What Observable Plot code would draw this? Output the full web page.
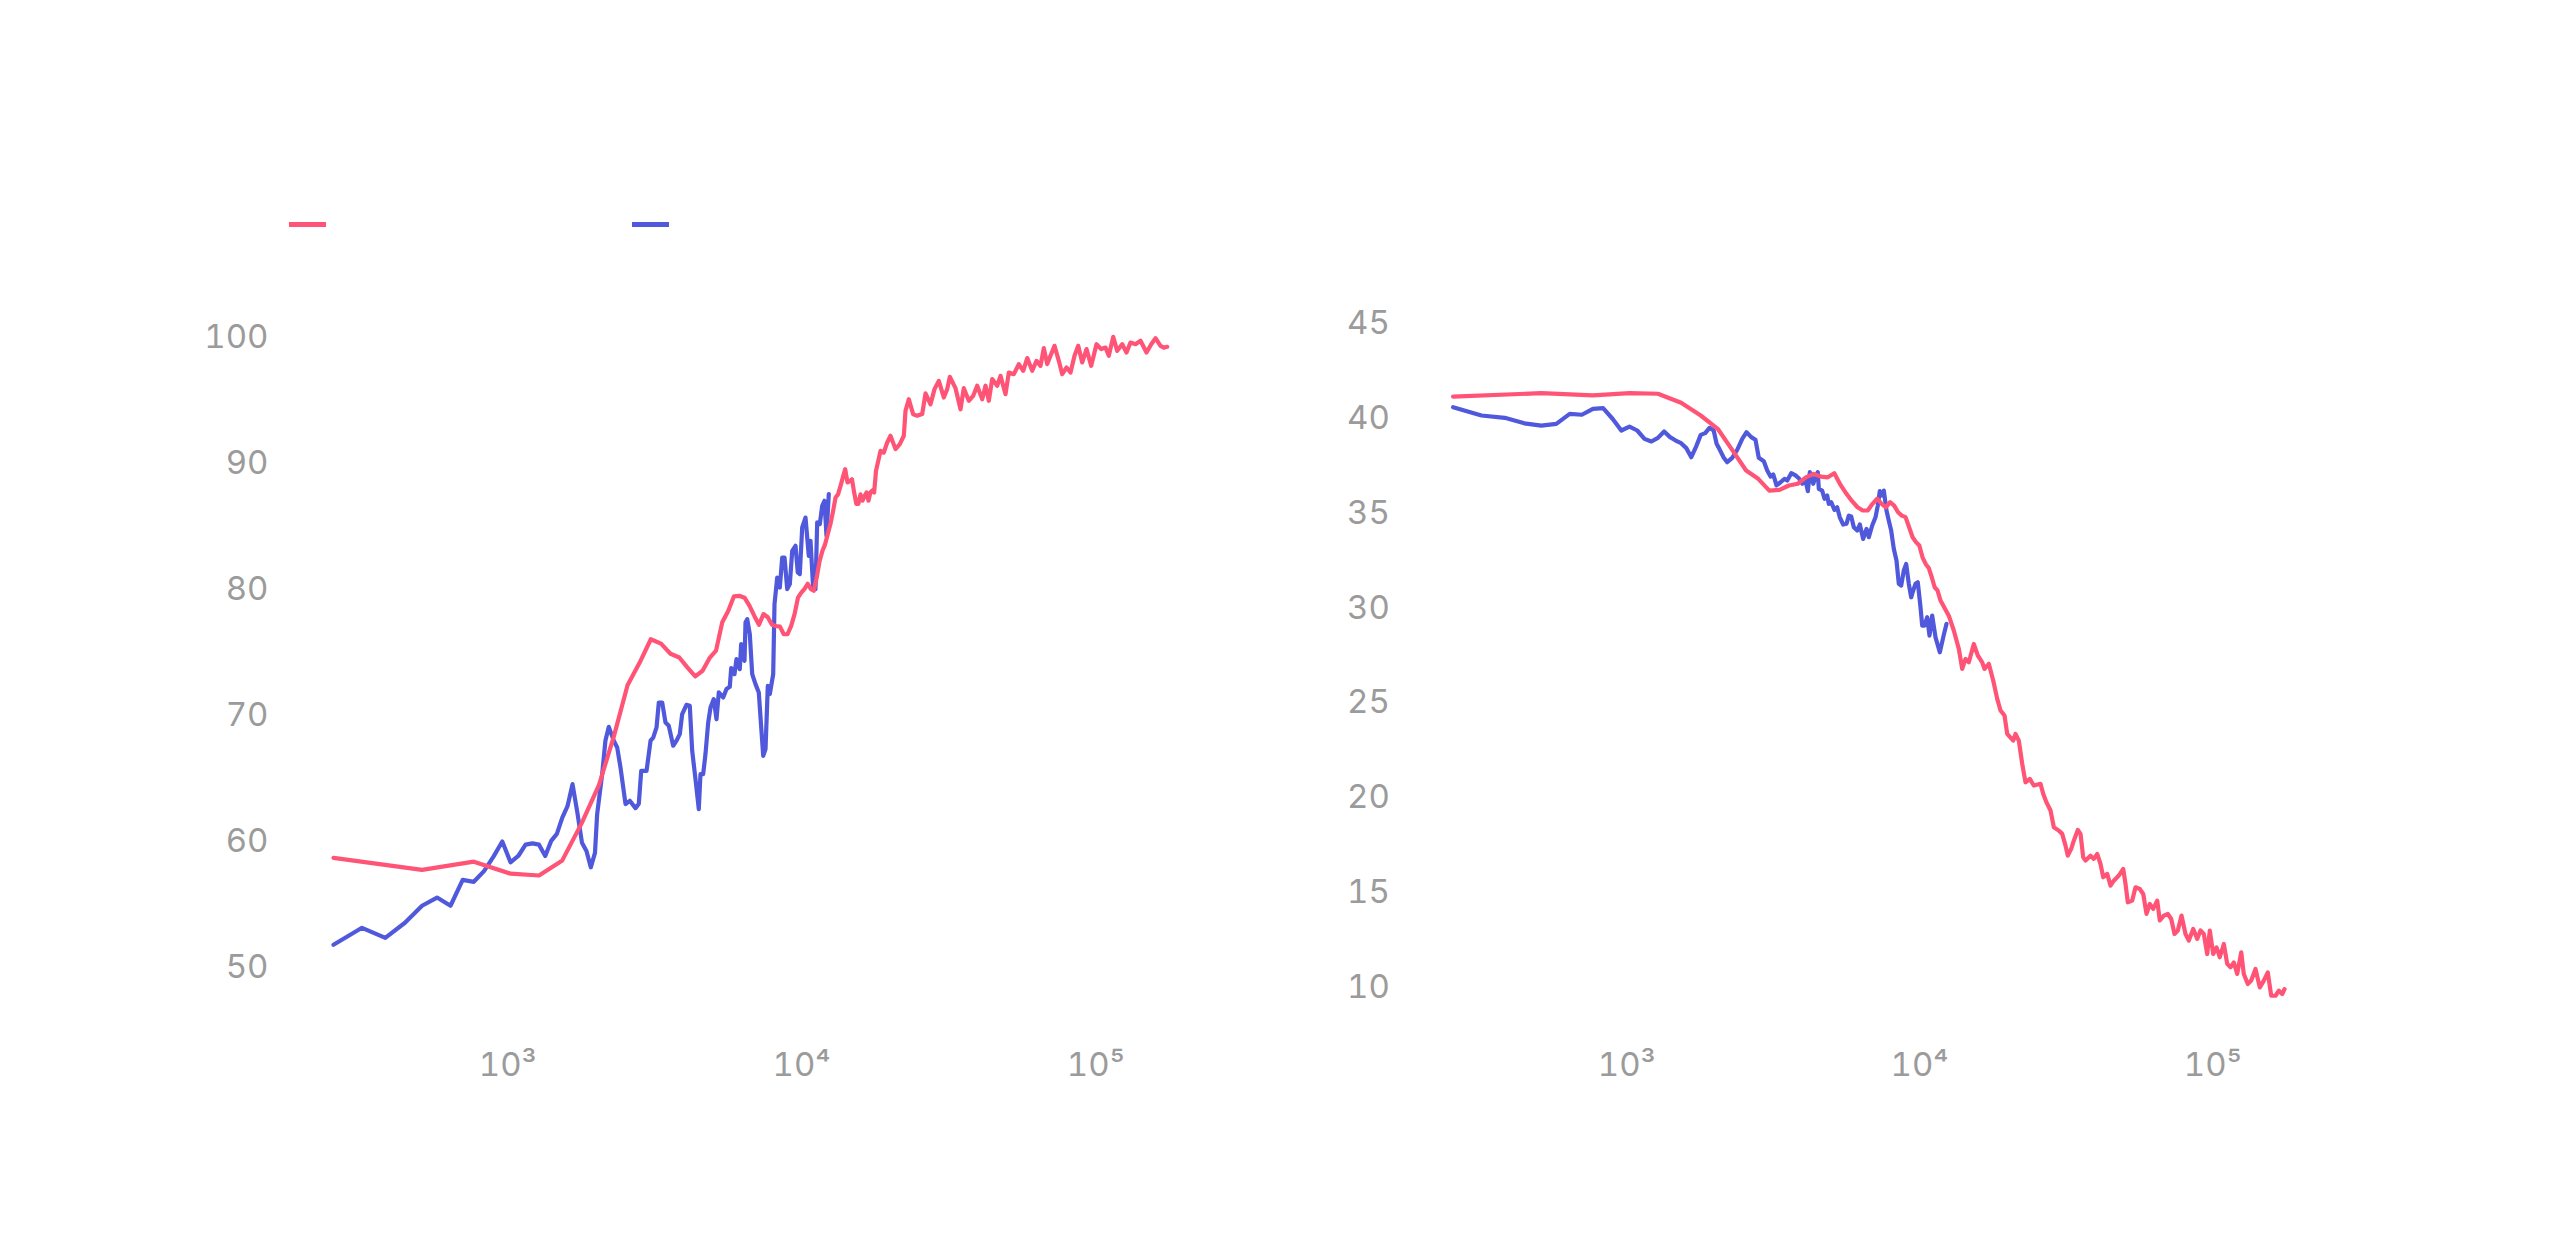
<!DOCTYPE html>
<html>
<head>
<meta charset="utf-8">
<script src="https://cdn.jsdelivr.net/npm/d3@7"></script>
<script src="https://cdn.jsdelivr.net/npm/@observablehq/plot@0.6"></script>
<style>
  html, body { margin: 0; padding: 0; background: #ffffff; }
  #page { position: relative; width: 2560px; height: 1237px; overflow: hidden; font-family: Inter, "Noto Sans", sans-serif; }
  .swatch { position: absolute; top: 222px; width: 37px; height: 5px; }
  .panel { position: absolute; top: 260px; }
</style>
</head>
<body>
<div id="page">
  <div id="legend"></div>
  <div id="left" class="panel" style="left:0px"></div>
  <div id="right" class="panel" style="left:1280px"></div>
</div>
<script>
// ---- series meta ----
const seriesNames = ["", ""];
const seriesColors = ["#ff5475", "#5059dc"];

// ---- ticks ----
const xTicks = [1000, 10000, 100000];
const xTickLabels = ["10³", "10⁴", "10⁵"];
const leftYTicks = [50, 60, 70, 80, 90, 100];
const rightYTicks = [10, 15, 20, 25, 30, 35, 40, 45];

// ---- left panel, red series ----
const leftRedX = [256,512,768,1024,1280,1536,1792,2048,2304,2560,2816,3072,3328,3584,3840,4096,4352,4608,4864,5120,5376,5632,5888,6144,6400,6656,6912,7168,7424,7680,7936,8192,8448,8704,8960,9216,9472,9728,9984,10240,10496,10752,11008,11264,11520,11776,12032,12288,12544,12800,13056,13312,13568,13824,14080,14336,14592,14848,15104,15360,15616,15872,16128,16384,16640,16896,17152,17408,17664,17920,18565,19050,19566,20077,20880,21597,22284,22580,23174,23985,24748,25736,26415,27469,28343,29311,30479,31305,31946,33406,34740,35647,37071,38373,39594,41177,42258,43362,44526,46303,47527,49424,50718,52743,54848,56776,58581,60920,62999,65007,66707,68512,70303,72541,75038,77053,79706,82224,84840,87338,90120,93205,96693,100786,104568,108143,110977,114874,118530,123264,127480,131522,136803,142267,149112,154714,160001,166391,170740,175368];
const leftRedY = [58.7,57.75,58.4,57.45,57.3,58.5,61.5,64.5,68.4,72.4,74.2,76.05,75.7,74.9,74.6,73.8,73.1,73.55,74.55,75.15,77.4,78.3,79.45,79.5,79.35,78.7,77.9,77.2,78.05,77.8,77.2,77.1,77.05,76.45,76.45,77.1,78.05,79.35,79.75,80.05,80.45,80.05,79.9,80.95,82.25,83.05,83.6,84.4,85.2,86.2,87.3,87.55,88.2,88.9,89.55,88.5,88.6,88.75,87.7,86.8,86.8,87.55,87.05,87.4,87.7,87.05,87.7,87.85,87.7,89.4,91.0,90.87,91.67,92.2,91.14,91.54,92.2,94.18,95.1,93.9,93.79,93.92,95.56,94.7,95.9,96.56,95.24,95.9,96.88,95.98,94.3,95.98,94.98,95.37,96.17,95.1,96.17,94.98,96.7,96.17,96.96,95.5,97.22,97.09,97.89,97.36,98.37,97.36,98.15,97.75,99.16,97.89,98.55,99.34,98.15,97.09,97.62,97.22,98.55,99.34,98.02,99.08,97.75,99.47,99.08,99.2,98.55,100.05,98.94,99.47,98.81,99.6,99.47,99.74,98.81,99.47,99.95,99.34,99.2,99.26];

// ---- left panel, blue series ----
const leftBlueX = [256,320,384,448,512,576,640,704,768,832,896,960,1024,1088,1152,1216,1280,1344,1408,1472,1536,1600,1664,1728,1792,1856,1920,1984,2018,2099,2153,2211,2299,2361,2423,2520,2606,2725,2797,2850,2971,3066,3131,3213,3271,3359,3447,3537,3661,3757,3855,3928,4062,4169,4248,4359,4473,4533,4630,4714,4815,4903,5031,5139,5232,5415,5557,5703,5766,5917,6010,6167,6235,6400,6450,6537,6670,6797,6975,7157,7294,7409,7544,7681,7802,8012,8094,8268,8438,8600,8755,8942,9126,9299,9541,9714,9867,10055,10318,10588,10730,10960,11157,11308,11540,11760,11973,12162,12382];
const leftBlueY = [51.8,53.15,52.35,53.55,54.9,55.55,54.9,56.95,56.8,57.65,58.8,60.0,58.35,58.85,59.75,59.85,59.75,58.85,60.05,60.6,61.9,62.8,64.55,62.3,59.9,59.25,57.95,59.1,62.17,65.35,68.0,69.1,68.0,67.46,65.87,62.97,63.23,62.65,63.0,65.6,65.6,68.0,68.25,69.05,71.03,71.03,69.44,69.18,67.6,68.0,68.52,70.11,70.85,70.77,67.2,64.95,62.57,65.35,65.35,66.94,69.44,70.63,71.3,69.7,71.83,71.43,72.1,72.28,73.76,73.28,74.48,73.68,75.67,74.34,77.38,77.65,76.46,73.28,72.49,71.83,69.05,66.8,67.33,72.36,71.7,73.28,78.84,80.95,80.16,82.54,82.54,80.03,80.43,83.07,83.47,81.35,81.22,84.92,85.71,82.67,83.87,80.03,80.03,85.32,85.19,86.64,87.04,84.26,87.57];

// ---- right panel, red series ----
const rightRedX = [256,512,768,1024,1280,1536,1792,2048,2304,2560,2816,3072,3328,3584,3840,4096,4352,4608,4864,5120,5376,5632,5888,6144,6400,6656,6912,7168,7424,7680,7936,8192,8448,8704,8960,9216,9472,9728,9984,10240,10496,10752,11008,11264,11520,11795,12589,13093,13619,13988,14355,14733,15321,15812,16368,16666,17239,17846,18417,18902,19505,19925,20883,21263,21824,22414,23005,23795,24552,25882,26436,27126,28000,28737,29885,30690,31500,32070,32938,33620,34700,35440,36200,36865,38336,39348,40413,41470,42367,43714,44866,46040,47889,49572,50480,51396,53203,54604,56484,58013,59530,61094,62747,64757,66086,68207,70378,72283,74185,76138,78380,80876,83007,85925,88679,91000,93390,95920,97900,100550,103200,105900,109300,112260,115200,118230,121430,125310,127880,131960,135540,140200,145000,149650,154420,158590,164060,168390,172940,176070];
const rightRedY = [41.16,41.34,41.22,41.34,41.31,40.83,40.16,39.46,38.31,37.26,36.82,36.2,36.24,36.47,36.56,36.9,37.08,36.94,36.9,37.12,36.5,36.03,35.64,35.32,35.15,35.15,35.5,35.77,35.5,35.32,35.59,35.41,35.06,34.88,34.8,34.27,33.74,33.48,33.3,32.68,32.33,32.12,31.63,31.1,30.93,30.4,29.6,28.82,27.85,26.79,27.32,27.14,28.11,27.5,27.14,26.79,27.06,26.18,25.21,24.6,24.33,23.36,23.01,23.36,23.01,21.78,20.81,20.99,20.64,20.73,20.2,19.75,19.32,18.44,18.26,18.09,17.47,16.94,17.3,17.73,18.3,18.09,16.85,16.68,16.94,16.77,17.03,16.5,15.8,15.98,15.36,15.62,15.89,16.24,15.45,14.48,14.57,15.27,15.18,14.92,13.87,14.39,14.13,14.57,13.52,13.78,13.87,13.6,12.81,12.99,13.78,12.81,12.46,13.07,12.55,12.99,12.81,11.75,12.99,11.75,12.1,11.58,12.28,11.23,11.05,11.31,10.7,11.84,10.7,10.17,10.35,10.96,9.99,10.35,10.78,9.55,9.55,9.82,9.64,9.9];

// ---- right panel, blue series ----
const rightBlueX = [256,320,384,448,512,576,640,704,768,832,896,960,1024,1088,1152,1216,1280,1344,1408,1472,1536,1600,1664,1728,1792,1856,1920,1984,2030,2082,2148,2206,2295,2387,2483,2568,2665,2756,2828,2942,3022,3101,3168,3251,3355,3462,3536,3650,3775,3874,3979,4083,4158,4224,4338,4416,4497,4532,4654,4740,4841,4902,4995,5126,5236,5345,5489,5634,5738,5847,5968,6130,6257,6423,6593,6714,6896,7076,7205,7319,7459,7553,7714,7854,8004,8170,8345,8498,8659,8838,9006,9193,9368,9517,9690,9867,10079,10214,10399,10624,10816,11048,11340,11730,12125,12366];
const rightBlueY = [40.6,40.16,40.04,39.75,39.63,39.72,40.25,40.2,40.51,40.55,39.99,39.37,39.58,39.37,38.93,38.79,38.98,39.32,39.02,38.84,38.7,38.44,37.96,38.52,39.14,39.23,39.51,39.37,38.67,38.35,37.93,37.7,37.93,38.35,38.93,39.28,39.02,38.88,37.93,37.75,37.26,36.94,37.05,36.47,36.64,36.82,36.73,37.12,37.0,36.85,36.56,36.73,36.17,37.17,36.56,36.91,37.17,36.29,36.2,35.77,35.94,35.5,35.59,35.18,35.32,34.79,34.41,34.45,34.88,34.83,34.27,34.09,34.41,33.65,34.18,33.74,34.36,34.79,35.41,36.17,35.94,36.2,35.15,34.62,34.09,33.13,32.51,31.28,31.19,31.98,32.33,31.28,30.57,30.93,31.28,31.36,30.04,29.08,29.08,29.52,28.55,29.61,28.46,27.67,28.64,29.17];

// ---- build ----
const rows = (xs, ys) => xs.map((x, i) => ({x, y: ys[i]}));
const fmtX = d => xTickLabels[xTicks.indexOf(d)];
const svgStyle = {fontSize: "33px", fontFamily: "Inter, 'Noto Sans', sans-serif", color: "#9b9b9b", background: "transparent", overflow: "visible"};

function panel(opts) {
  return Plot.plot({
    width: 1280,
    height: 840,
    marginLeft: opts.marginLeft,
    marginRight: opts.marginRight,
    marginTop: 14,
    marginBottom: 70,
    style: svgStyle,
    x: {type: "log", domain: [200, 230000]},
    y: {domain: opts.yDomain},
    marks: [
      Plot.axisX({ticks: xTicks, tickFormat: fmtX, tickSize: 0, tickPadding: 22, label: null}),
      Plot.axisY({ticks: opts.yTicks, tickSize: 0, tickPadding: opts.yPad, textAnchor: opts.yAnchor, label: null}),
      Plot.line(rows(opts.blueX, opts.blueY), {x: "x", y: "y", stroke: seriesColors[1], strokeWidth: 4.2}),
      Plot.line(rows(opts.redX, opts.redY), {x: "x", y: "y", stroke: seriesColors[0], strokeWidth: 4.2})
    ]
  });
}

document.getElementById("left").appendChild(panel({
  marginLeft: 301.5, marginRight: 78.65, yDomain: [45, 105], yTicks: leftYTicks, yPad: 33.5, yAnchor: "end",
  redX: leftRedX, redY: leftRedY, blueX: leftBlueX, blueY: leftBlueY
}));
document.getElementById("right").appendChild(panel({
  marginLeft: 141.2, marginRight: 242, yDomain: [7.716, 47.6], yTicks: rightYTicks, yPad: 74.7, yAnchor: "start",
  redX: rightRedX, redY: rightRedY, blueX: rightBlueX, blueY: rightBlueY
}));

// ---- legend (swatches) ----
const legend = document.getElementById("legend");
const swatchLeft = [289, 632];
seriesColors.forEach((c, i) => {
  const s = document.createElement("div");
  s.className = "swatch";
  s.style.left = swatchLeft[i] + "px";
  s.style.background = c;
  s.title = seriesNames[i];
  legend.appendChild(s);
});
</script>
</body>
</html>
